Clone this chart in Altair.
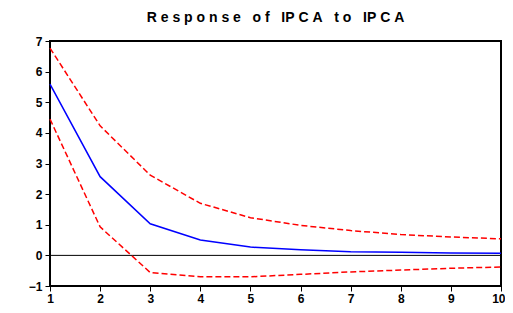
import altair as alt
import pandas as pd

periods = [1, 2, 3, 4, 5, 6, 7, 8, 9, 10]
response = [5.59, 2.57, 1.03, 0.50, 0.27, 0.18, 0.12, 0.10, 0.08, 0.07]
upper = [6.77, 4.23, 2.62, 1.70, 1.23, 0.98, 0.81, 0.68, 0.60, 0.54]
lower = [4.45, 0.93, -0.56, -0.70, -0.70, -0.62, -0.54, -0.48, -0.42, -0.38]

df = pd.DataFrame({"period": periods, "resp": response, "up": upper, "lo": lower})

x = alt.X("period:Q", scale=alt.Scale(domain=[1, 10], nice=False),
          axis=alt.Axis(values=periods, title=None, grid=False, domain=False,
                        tickColor="black", tickSize=5, labelFont="Liberation Sans",
                        labelFontWeight="bold", labelFontSize=12, labelColor="black",
                        labelPadding=2, labelFlush=False,
                        labelAlign={"condition": {"test": "datum.value == 10", "value": "right"},
                                    "value": "center"},
                        labelOffset={"condition": {"test": "datum.value == 10", "value": 4},
                                     "value": 0}))
yaxis = alt.Axis(values=list(range(-1, 8)), title=None, grid=False, domain=False,
                 tickColor="black", tickSize=5, labelFont="Liberation Sans",
                 labelFontWeight="bold", labelFontSize=12, labelColor="black",
                 labelPadding=3)
yscale = alt.Scale(domain=[-1, 7], nice=False)

base = alt.Chart(df)
zero = alt.Chart(pd.DataFrame({"z": [0]})).mark_rule(color="black", strokeWidth=1).encode(
    y=alt.Y("z:Q", scale=yscale, axis=yaxis))
blue = base.mark_line(color="#0000ff", strokeWidth=1.5).encode(
    x=x, y=alt.Y("resp:Q", scale=yscale, axis=yaxis))
up = base.mark_line(color="#ff0000", strokeWidth=1.5, strokeDash=[6, 3]).encode(
    x=x, y=alt.Y("up:Q", scale=yscale, axis=yaxis))
lo = base.mark_line(color="#ff0000", strokeWidth=1.5, strokeDash=[6, 3]).encode(
    x=x, y=alt.Y("lo:Q", scale=yscale, axis=yaxis))

nb = "\u00a0"
title_text = (nb.join("Response") + nb * 3 + nb.join("of") + nb * 3 + "IP" + nb + "C" + nb + "A"
              + nb * 3 + nb.join("to") + nb * 3 + "IP" + nb + "C" + nb + "A")

chart = alt.layer(zero, up, lo, blue).properties(
    width=451, height=245,
    autosize=alt.AutoSizeParams(type="none"),
    padding={"left": 42, "top": 33, "right": 4, "bottom": 19},
    title=alt.TitleParams(
        title_text,
        font="Liberation Sans", fontSize=14, fontWeight="bold", color="black",
        anchor="middle", offset=10),
).configure(background="white").configure_view(stroke="black", strokeWidth=2)

chart.save("out.html", embed_options={"renderer": "svg", "actions": False})
